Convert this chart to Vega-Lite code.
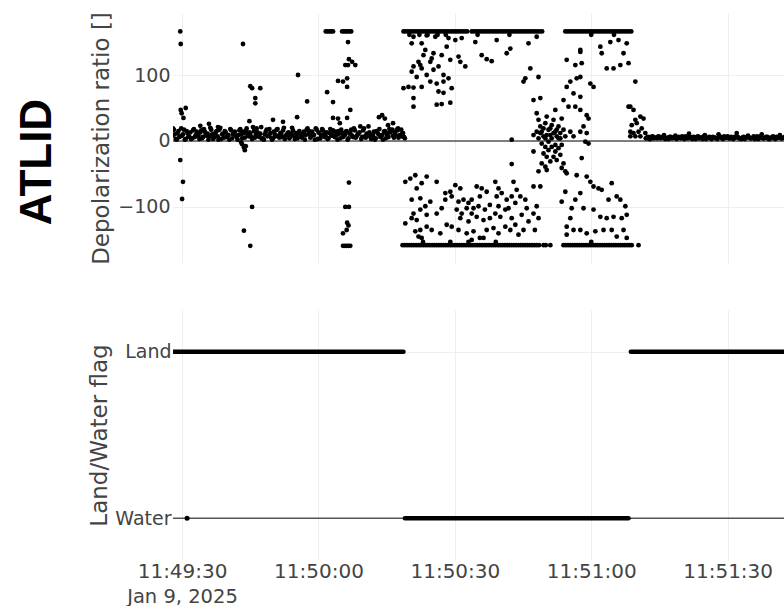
{
"$schema":"https://vega.github.io/schema/vega-lite/v6.json",
"padding":{"left":15,"top":11,"right":0,"bottom":0},
"background":"white",
"spacing":45,
"config":{"view":{"stroke":null},"font":"DejaVu Sans","axis":{"labelFont":"DejaVu Sans","titleFont":"DejaVu Sans","labelFontSize":19,"titleFontSize":23,"labelColor":"#444","titleColor":"#444","titleFontWeight":"normal","gridColor":"#eeeeee","gridWidth":1,"ticks":false,"domain":false}},
"vconcat":[
{"width":611,"height":250,
"title":{"text":"ATLID","orient":"left","anchor":"middle","fontSize":44,"fontWeight":"bold","color":"black","font":"Liberation Sans","offset":30,"dx":-24},
"layer":[
{"data":{"values":[{"z":0}]},"mark":{"type":"rule","color":"#555","strokeWidth":1.5},"encoding":{"y":{"field":"z","type":"quantitative"}}},
{"data":{"values":[
{"t":1736423367800,"v":8},{"t":1736423368200,"v":17},{"t":1736423368600,"v":3},{"t":1736423369000,"v":12},{"t":1736423369400,"v":6},{"t":1736423369800,"v":19},{"t":1736423370200,"v":10},{"t":1736423370600,"v":2},{"t":1736423371000,"v":15},{"t":1736423371400,"v":7},
{"t":1736423371800,"v":13},{"t":1736423372200,"v":4},{"t":1736423372600,"v":18},{"t":1736423373000,"v":9},{"t":1736423373400,"v":11},{"t":1736423373800,"v":3},{"t":1736423374200,"v":16},{"t":1736423374600,"v":6},{"t":1736423375000,"v":14},{"t":1736423375400,"v":8},
{"t":1736423375800,"v":2},{"t":1736423376200,"v":20},{"t":1736423376600,"v":10},{"t":1736423377000,"v":5},{"t":1736423377400,"v":13},{"t":1736423377800,"v":7},{"t":1736423378200,"v":17},{"t":1736423378600,"v":3},{"t":1736423379000,"v":11},{"t":1736423379400,"v":15},
{"t":1736423379800,"v":6},{"t":1736423380200,"v":9},{"t":1736423380600,"v":18},{"t":1736423381000,"v":4},{"t":1736423381400,"v":12},{"t":1736423381800,"v":8},{"t":1736423382200,"v":2},{"t":1736423382600,"v":16},{"t":1736423383000,"v":10},{"t":1736423383400,"v":14},
{"t":1736423383800,"v":5},{"t":1736423384200,"v":19},{"t":1736423384600,"v":7},{"t":1736423385000,"v":11},{"t":1736423385400,"v":3},{"t":1736423385800,"v":15},{"t":1736423386200,"v":9},{"t":1736423386600,"v":13},{"t":1736423387000,"v":6},{"t":1736423387400,"v":21},
{"t":1736423387800,"v":4},{"t":1736423388200,"v":10},{"t":1736423388600,"v":17},{"t":1736423389000,"v":8},{"t":1736423389400,"v":12},{"t":1736423389800,"v":2},{"t":1736423390200,"v":14},{"t":1736423390600,"v":7},{"t":1736423391000,"v":18},{"t":1736423391400,"v":5},
{"t":1736423391800,"v":11},{"t":1736423392200,"v":16},{"t":1736423392600,"v":3},{"t":1736423393000,"v":9},{"t":1736423393400,"v":13},{"t":1736423393800,"v":6},{"t":1736423394200,"v":20},{"t":1736423394600,"v":8},{"t":1736423395000,"v":12},{"t":1736423395400,"v":4},
{"t":1736423395800,"v":15},{"t":1736423396200,"v":7},{"t":1736423396600,"v":10},{"t":1736423397000,"v":2},{"t":1736423397400,"v":17},{"t":1736423397800,"v":11},{"t":1736423398200,"v":5},{"t":1736423398600,"v":14},{"t":1736423399000,"v":9},{"t":1736423399400,"v":19},
{"t":1736423399800,"v":3},{"t":1736423400200,"v":12},{"t":1736423400600,"v":8},{"t":1736423401000,"v":16},{"t":1736423401400,"v":6},{"t":1736423401800,"v":13},{"t":1736423402200,"v":4},{"t":1736423402600,"v":18},{"t":1736423403000,"v":10},{"t":1736423403400,"v":7},
{"t":1736423403800,"v":14},{"t":1736423404200,"v":2},{"t":1736423404600,"v":11},{"t":1736423405000,"v":17},{"t":1736423405400,"v":6},{"t":1736423405800,"v":9},{"t":1736423406200,"v":15},{"t":1736423406600,"v":4},{"t":1736423407000,"v":12},{"t":1736423407400,"v":8},
{"t":1736423407800,"v":19},{"t":1736423408200,"v":5},{"t":1736423408600,"v":10},{"t":1736423409000,"v":13},{"t":1736423409400,"v":3},{"t":1736423409800,"v":16},{"t":1736423410200,"v":7},{"t":1736423410600,"v":11},{"t":1736423411000,"v":22},{"t":1736423411400,"v":6},
{"t":1736423411800,"v":9},{"t":1736423412200,"v":14},{"t":1736423412600,"v":4},{"t":1736423413000,"v":12},{"t":1736423413400,"v":18},{"t":1736423413800,"v":8},{"t":1736423414200,"v":2},{"t":1736423414600,"v":15},{"t":1736423415000,"v":10},{"t":1736423415400,"v":6},
{"t":1736423415800,"v":13},{"t":1736423416200,"v":17},{"t":1736423416600,"v":5},{"t":1736423417000,"v":9},{"t":1736423417400,"v":16},{"t":1736423417800,"v":8},{"t":1736423418200,"v":7},{"t":1736423418600,"v":12},{"t":1736423419000,"v":4},
{"t":1736423368000,"v":19},{"t":1736423368400,"v":10},{"t":1736423368800,"v":2},{"t":1736423369200,"v":15},{"t":1736423369600,"v":7},{"t":1736423370000,"v":8},{"t":1736423370400,"v":17},{"t":1736423370800,"v":3},{"t":1736423371200,"v":12},{"t":1736423371600,"v":6},
{"t":1736423372000,"v":3},{"t":1736423372400,"v":16},{"t":1736423372800,"v":6},{"t":1736423373200,"v":14},{"t":1736423373600,"v":8},{"t":1736423374000,"v":13},{"t":1736423374400,"v":4},{"t":1736423374800,"v":18},{"t":1736423375200,"v":9},{"t":1736423375600,"v":11},
{"t":1736423376000,"v":7},{"t":1736423376400,"v":17},{"t":1736423376800,"v":3},{"t":1736423377200,"v":11},{"t":1736423377600,"v":15},{"t":1736423378000,"v":2},{"t":1736423378400,"v":20},{"t":1736423378800,"v":10},{"t":1736423379200,"v":5},{"t":1736423379600,"v":13},
{"t":1736423380000,"v":8},{"t":1736423380400,"v":2},{"t":1736423380800,"v":16},{"t":1736423381200,"v":10},{"t":1736423381600,"v":14},{"t":1736423382000,"v":6},{"t":1736423382400,"v":9},{"t":1736423382800,"v":18},{"t":1736423383200,"v":4},{"t":1736423383600,"v":12},
{"t":1736423384000,"v":15},{"t":1736423384400,"v":9},{"t":1736423384800,"v":13},{"t":1736423385200,"v":6},{"t":1736423385600,"v":21},{"t":1736423386000,"v":5},{"t":1736423386400,"v":19},{"t":1736423386800,"v":7},{"t":1736423387200,"v":11},{"t":1736423387600,"v":3},
{"t":1736423388000,"v":2},{"t":1736423388400,"v":14},{"t":1736423388800,"v":7},{"t":1736423389200,"v":18},{"t":1736423389600,"v":5},{"t":1736423390000,"v":4},{"t":1736423390400,"v":10},{"t":1736423390800,"v":17},{"t":1736423391200,"v":8},{"t":1736423391600,"v":12},
{"t":1736423392000,"v":6},{"t":1736423392400,"v":20},{"t":1736423392800,"v":8},{"t":1736423393200,"v":12},{"t":1736423393600,"v":4},{"t":1736423394000,"v":11},{"t":1736423394400,"v":16},{"t":1736423394800,"v":3},{"t":1736423395200,"v":9},{"t":1736423395600,"v":13},
{"t":1736423396000,"v":11},{"t":1736423396400,"v":5},{"t":1736423396800,"v":14},{"t":1736423397200,"v":9},{"t":1736423397600,"v":19},{"t":1736423398000,"v":15},{"t":1736423398400,"v":7},{"t":1736423398800,"v":10},{"t":1736423399200,"v":2},{"t":1736423399600,"v":17},
{"t":1736423400000,"v":13},{"t":1736423400400,"v":4},{"t":1736423400800,"v":18},{"t":1736423401200,"v":10},{"t":1736423401600,"v":7},{"t":1736423402000,"v":3},{"t":1736423402400,"v":12},{"t":1736423402800,"v":8},{"t":1736423403200,"v":16},{"t":1736423403600,"v":6},
{"t":1736423404000,"v":9},{"t":1736423404400,"v":15},{"t":1736423404800,"v":4},{"t":1736423405200,"v":12},{"t":1736423405600,"v":8},{"t":1736423406000,"v":14},{"t":1736423406400,"v":2},{"t":1736423406800,"v":11},{"t":1736423407200,"v":17},{"t":1736423407600,"v":6},
{"t":1736423408000,"v":16},{"t":1736423408400,"v":7},{"t":1736423408800,"v":11},{"t":1736423409200,"v":22},{"t":1736423409600,"v":6},{"t":1736423410000,"v":19},{"t":1736423410400,"v":5},{"t":1736423410800,"v":10},{"t":1736423411200,"v":13},{"t":1736423411600,"v":3},
{"t":1736423412000,"v":8},{"t":1736423412400,"v":2},{"t":1736423412800,"v":15},{"t":1736423413200,"v":10},{"t":1736423413600,"v":6},{"t":1736423414000,"v":9},{"t":1736423414400,"v":14},{"t":1736423414800,"v":4},{"t":1736423415200,"v":12},{"t":1736423415600,"v":18},
{"t":1736423416000,"v":16},{"t":1736423416400,"v":8},{"t":1736423416800,"v":13},{"t":1736423417200,"v":17},{"t":1736423417600,"v":5},{"t":1736423418000,"v":9},{"t":1736423418400,"v":11},{"t":1736423418800,"v":6},
{"t":1736423369600,"v":166},{"t":1736423369700,"v":147},{"t":1736423369700,"v":47},{"t":1736423370800,"v":50},{"t":1736423370300,"v":35},{"t":1736423369900,"v":42},{"t":1736423369600,"v":-29},{"t":1736423370200,"v":-62},{"t":1736423370000,"v":-88},
{"t":1736423375900,"v":26},{"t":1736423374000,"v":23},{"t":1736423377900,"v":21},
{"t":1736423383400,"v":147},{"t":1736423385000,"v":83},{"t":1736423385400,"v":80},{"t":1736423387200,"v":80},{"t":1736423386100,"v":65},{"t":1736423386100,"v":57},
{"t":1736423383000,"v":-2},{"t":1736423383200,"v":-5},{"t":1736423383600,"v":-10},{"t":1736423383800,"v":-14},{"t":1736423384000,"v":-8},{"t":1736423385400,"v":-100},{"t":1736423383600,"v":-136},{"t":1736423385000,"v":-159},{"t":1736423384800,"v":30},
{"t":1736423395500,"v":100},{"t":1736423397500,"v":60},{"t":1736423395300,"v":36},{"t":1736423390000,"v":32},{"t":1736423392200,"v":29},
{"t":1736423401900,"v":74},{"t":1736423403200,"v":59},{"t":1736423401600,"v":166},{"t":1736423402000,"v":166},{"t":1736423402400,"v":166},{"t":1736423402800,"v":166},{"t":1736423403200,"v":166},
{"t":1736423405200,"v":166},{"t":1736423405600,"v":166},{"t":1736423406000,"v":166},{"t":1736423406400,"v":166},{"t":1736423406800,"v":166},{"t":1736423407200,"v":166},{"t":1736423406500,"v":150},{"t":1736423406700,"v":124},{"t":1736423405900,"v":115},{"t":1736423406500,"v":115},{"t":1736423408100,"v":115},{"t":1736423407400,"v":120},{"t":1736423404300,"v":91},{"t":1736423405400,"v":90},{"t":1736423406300,"v":95},{"t":1736423406300,"v":82},{"t":1736423407000,"v":47},{"t":1736423406300,"v":35},{"t":1736423403200,"v":35},{"t":1736423404300,"v":34},{"t":1736423404700,"v":27},
{"t":1736423406700,"v":-63},{"t":1736423405900,"v":-100},{"t":1736423406700,"v":-100},{"t":1736423406300,"v":-124},{"t":1736423406600,"v":-128},{"t":1736423405400,"v":-140},{"t":1736423406200,"v":-135},{"t":1736423405400,"v":-159},{"t":1736423405800,"v":-159},{"t":1736423406200,"v":-159},{"t":1736423406600,"v":-159},{"t":1736423407000,"v":-159},
{"t":1736423413300,"v":36},{"t":1736423414000,"v":39},{"t":1736423414600,"v":34},{"t":1736423415300,"v":24},{"t":1736423416400,"v":27},{"t":1736423417500,"v":19},{"t":1736423418200,"v":17},
{"t":1736423418700,"v":166},{"t":1736423419200,"v":166},{"t":1736423419700,"v":166},{"t":1736423420200,"v":166},{"t":1736423420700,"v":166},{"t":1736423421200,"v":166},{"t":1736423421700,"v":166},{"t":1736423422200,"v":166},{"t":1736423422700,"v":166},{"t":1736423423200,"v":166},{"t":1736423423700,"v":166},{"t":1736423424200,"v":166},{"t":1736423424700,"v":166},{"t":1736423425200,"v":166},{"t":1736423425700,"v":166},{"t":1736423426200,"v":166},{"t":1736423426700,"v":166},{"t":1736423427200,"v":166},{"t":1736423427700,"v":166},{"t":1736423428200,"v":166},{"t":1736423428700,"v":166},{"t":1736423429200,"v":166},{"t":1736423429700,"v":166},{"t":1736423430200,"v":166},{"t":1736423430700,"v":166},{"t":1736423431200,"v":166},{"t":1736423431700,"v":166},{"t":1736423432200,"v":166},{"t":1736423432700,"v":166},
{"t":1736423433700,"v":166},{"t":1736423434200,"v":166},{"t":1736423434700,"v":166},{"t":1736423435200,"v":166},{"t":1736423435700,"v":166},{"t":1736423436200,"v":166},{"t":1736423436700,"v":166},{"t":1736423437200,"v":166},{"t":1736423437700,"v":166},{"t":1736423438200,"v":166},{"t":1736423438700,"v":166},{"t":1736423439200,"v":166},{"t":1736423439700,"v":166},{"t":1736423440200,"v":166},{"t":1736423440700,"v":166},{"t":1736423441200,"v":166},{"t":1736423441700,"v":166},{"t":1736423442200,"v":166},{"t":1736423442700,"v":166},{"t":1736423443200,"v":166},{"t":1736423443700,"v":166},{"t":1736423444200,"v":166},{"t":1736423444700,"v":166},{"t":1736423445200,"v":166},{"t":1736423445700,"v":166},{"t":1736423446200,"v":166},{"t":1736423446700,"v":166},{"t":1736423447200,"v":166},{"t":1736423447700,"v":166},{"t":1736423448200,"v":166},{"t":1736423448700,"v":166},{"t":1736423449200,"v":166},
{"t":1736423454300,"v":166},{"t":1736423454800,"v":166},{"t":1736423455300,"v":166},{"t":1736423455800,"v":166},{"t":1736423456300,"v":166},{"t":1736423456800,"v":166},{"t":1736423457300,"v":166},{"t":1736423457800,"v":166},{"t":1736423458300,"v":166},{"t":1736423458800,"v":166},{"t":1736423459300,"v":166},{"t":1736423459800,"v":166},{"t":1736423460300,"v":166},{"t":1736423460800,"v":166},{"t":1736423461300,"v":166},{"t":1736423461800,"v":166},{"t":1736423462300,"v":166},{"t":1736423462800,"v":166},{"t":1736423463300,"v":166},{"t":1736423463800,"v":166},{"t":1736423464300,"v":166},{"t":1736423464800,"v":166},{"t":1736423465300,"v":166},{"t":1736423465800,"v":166},{"t":1736423466300,"v":166},{"t":1736423466800,"v":166},{"t":1736423467300,"v":166},{"t":1736423467800,"v":166},{"t":1736423468300,"v":166},{"t":1736423468800,"v":166},
{"t":1736423420000,"v":161},{"t":1736423422200,"v":161},{"t":1736423424000,"v":161},{"t":1736423426200,"v":161},{"t":1736423428000,"v":161},{"t":1736423435000,"v":161},{"t":1736423442000,"v":161},{"t":1736423460000,"v":161},{"t":1736423465000,"v":161},
{"t":1736423418500,"v":-158},{"t":1736423419000,"v":-158},{"t":1736423419500,"v":-158},{"t":1736423420000,"v":-158},{"t":1736423420500,"v":-158},{"t":1736423421000,"v":-158},{"t":1736423421500,"v":-158},{"t":1736423422000,"v":-158},{"t":1736423422500,"v":-158},{"t":1736423423000,"v":-158},{"t":1736423423500,"v":-158},{"t":1736423424000,"v":-158},{"t":1736423424500,"v":-158},{"t":1736423425000,"v":-158},{"t":1736423425500,"v":-158},{"t":1736423426000,"v":-158},{"t":1736423426500,"v":-158},{"t":1736423427000,"v":-158},{"t":1736423427500,"v":-158},{"t":1736423428000,"v":-158},{"t":1736423428500,"v":-158},{"t":1736423429000,"v":-158},{"t":1736423429500,"v":-158},{"t":1736423430000,"v":-158},{"t":1736423430500,"v":-158},{"t":1736423431000,"v":-158},{"t":1736423431500,"v":-158},{"t":1736423432000,"v":-158},{"t":1736423432500,"v":-158},{"t":1736423433000,"v":-158},{"t":1736423433500,"v":-158},{"t":1736423434000,"v":-158},{"t":1736423434500,"v":-158},{"t":1736423435000,"v":-158},{"t":1736423435500,"v":-158},{"t":1736423436000,"v":-158},{"t":1736423436500,"v":-158},{"t":1736423437000,"v":-158},{"t":1736423437500,"v":-158},{"t":1736423438000,"v":-158},{"t":1736423438500,"v":-158},{"t":1736423439000,"v":-158},{"t":1736423439500,"v":-158},{"t":1736423440000,"v":-158},{"t":1736423440500,"v":-158},{"t":1736423441000,"v":-158},{"t":1736423441500,"v":-158},{"t":1736423442000,"v":-158},{"t":1736423442500,"v":-158},{"t":1736423443000,"v":-158},{"t":1736423443500,"v":-158},{"t":1736423444000,"v":-158},{"t":1736423444500,"v":-158},{"t":1736423445000,"v":-158},{"t":1736423445500,"v":-158},{"t":1736423446000,"v":-158},{"t":1736423446500,"v":-158},{"t":1736423447000,"v":-158},{"t":1736423447500,"v":-158},{"t":1736423448000,"v":-158},{"t":1736423448500,"v":-158},
{"t":1736423449500,"v":-158},{"t":1736423450000,"v":-158},{"t":1736423451000,"v":-158},
{"t":1736423453900,"v":-158},{"t":1736423454400,"v":-158},{"t":1736423454900,"v":-158},{"t":1736423455400,"v":-158},{"t":1736423455900,"v":-158},{"t":1736423456400,"v":-158},{"t":1736423456900,"v":-158},{"t":1736423457400,"v":-158},{"t":1736423457900,"v":-158},{"t":1736423458400,"v":-158},{"t":1736423458900,"v":-158},{"t":1736423459400,"v":-158},{"t":1736423459900,"v":-158},{"t":1736423460400,"v":-158},{"t":1736423460900,"v":-158},{"t":1736423461400,"v":-158},{"t":1736423461900,"v":-158},{"t":1736423462400,"v":-158},{"t":1736423462900,"v":-158},{"t":1736423463400,"v":-158},{"t":1736423463900,"v":-158},{"t":1736423464400,"v":-158},{"t":1736423464900,"v":-158},{"t":1736423465400,"v":-158},{"t":1736423465900,"v":-158},{"t":1736423466400,"v":-158},{"t":1736423466900,"v":-158},{"t":1736423467400,"v":-158},{"t":1736423467900,"v":-158},{"t":1736423468400,"v":-158},{"t":1736423468900,"v":-158},
{"t":1736423470400,"v":-158},
{"t":1736423423000,"v":-153},{"t":1736423429000,"v":-153},{"t":1736423433000,"v":-153},{"t":1736423439000,"v":-153},{"t":1736423460000,"v":-153},
{"t":1736423420500,"v":148},{"t":1736423422700,"v":148},{"t":1736423420900,"v":158},{"t":1736423423800,"v":160},{"t":1736423425700,"v":158},{"t":1736423428600,"v":156},{"t":1736423430100,"v":153},{"t":1736423431500,"v":156},{"t":1736423423500,"v":138},{"t":1736423423100,"v":130},{"t":1736423425300,"v":133},{"t":1736423427100,"v":130},{"t":1736423429000,"v":123},{"t":1736423430800,"v":128},{"t":1736423431200,"v":120},{"t":1736423432300,"v":113},{"t":1736423420900,"v":113},{"t":1736423422000,"v":120},{"t":1736423422700,"v":110},{"t":1736423424600,"v":120},{"t":1736423425300,"v":108},{"t":1736423426400,"v":113},{"t":1736423420500,"v":105},{"t":1736423421600,"v":97},{"t":1736423423800,"v":100},{"t":1736423427500,"v":100},{"t":1736423428600,"v":95},{"t":1736423418700,"v":80},{"t":1736423419800,"v":82},{"t":1736423420900,"v":81},{"t":1736423422700,"v":82},{"t":1736423424600,"v":90},{"t":1736423426000,"v":87},{"t":1736423427500,"v":90},{"t":1736423429300,"v":80},{"t":1736423426400,"v":75},{"t":1736423427500,"v":73},{"t":1736423420900,"v":65},{"t":1736423420900,"v":52},{"t":1736423426000,"v":55},{"t":1736423427100,"v":56},{"t":1736423429000,"v":58},{"t":1736423422400,"v":115},{"t":1736423428200,"v":143},{"t":1736423424900,"v":125},
{"t":1736423434500,"v":150},{"t":1736423439200,"v":153},{"t":1736423441400,"v":133},{"t":1736423442200,"v":140},{"t":1736423446200,"v":148},{"t":1736423448000,"v":158},{"t":1736423435900,"v":130},{"t":1736423437000,"v":124},{"t":1736423438100,"v":121},{"t":1736423446600,"v":110},{"t":1736423445100,"v":90},{"t":1736423445500,"v":95},{"t":1736423448400,"v":97},{"t":1736423447300,"v":62},{"t":1736423448800,"v":65},
{"t":1736423442500,"v":2},{"t":1736423442500,"v":-35},{"t":1736423447300,"v":9},{"t":1736423447300,"v":-16},{"t":1736423447300,"v":-69},{"t":1736423448800,"v":-69},{"t":1736423448000,"v":42},{"t":1736423448400,"v":32},{"t":1736423448800,"v":22},{"t":1736423449100,"v":14},{"t":1736423449500,"v":7},{"t":1736423449900,"v":27},{"t":1736423450200,"v":37},{"t":1736423450600,"v":17},{"t":1736423451000,"v":9},{"t":1736423451300,"v":24},{"t":1736423451700,"v":32},{"t":1736423452100,"v":47},{"t":1736423452100,"v":14},{"t":1736423452400,"v":7},{"t":1736423452800,"v":22},{"t":1736423453200,"v":12},{"t":1736423453500,"v":34},{"t":1736423453900,"v":17},{"t":1736423454300,"v":7},{"t":1736423448800,"v":12},{"t":1736423449500,"v":19},{"t":1736423450200,"v":9},{"t":1736423451000,"v":19},{"t":1736423451700,"v":12},{"t":1736423452400,"v":17},{"t":1736423453200,"v":4},{"t":1736423448000,"v":14},{"t":1736423448400,"v":4},{"t":1736423449900,"v":4},{"t":1736423451300,"v":4},{"t":1736423452800,"v":4},{"t":1736423449100,"v":-4},{"t":1736423449900,"v":-9},{"t":1736423450600,"v":-14},{"t":1736423451300,"v":-9},{"t":1736423452100,"v":-16},{"t":1736423452800,"v":-11},{"t":1736423453500,"v":-6},{"t":1736423449500,"v":-19},{"t":1736423450200,"v":-24},{"t":1736423451700,"v":-24},{"t":1736423453200,"v":-21},{"t":1736423449100,"v":-34},{"t":1736423449900,"v":-39},{"t":1736423451000,"v":-31},{"t":1736423452400,"v":-29},{"t":1736423453900,"v":-34},{"t":1736423448400,"v":-46},{"t":1736423450200,"v":-44},{"t":1736423454300,"v":-46},{"t":1736423453500,"v":-41},{"t":1736423452100,"v":-6},{"t":1736423450600,"v":-1},{"t":1736423454600,"v":-49},
{"t":1736423454600,"v":123},{"t":1736423457600,"v":135},{"t":1736423457900,"v":118},{"t":1736423456500,"v":115},{"t":1736423462000,"v":143},{"t":1736423462300,"v":133},{"t":1736423464200,"v":150},{"t":1736423466000,"v":153},{"t":1736423467800,"v":148},{"t":1736423467100,"v":133},{"t":1736423468200,"v":118},{"t":1736423466400,"v":115},{"t":1736423463400,"v":110},{"t":1736423464900,"v":110},{"t":1736423456800,"v":95},{"t":1736423455400,"v":90},{"t":1736423457600,"v":97},{"t":1736423459800,"v":87},{"t":1736423460500,"v":82},{"t":1736423454600,"v":82},{"t":1736423469700,"v":90},{"t":1736423456100,"v":72},{"t":1736423457600,"v":67},{"t":1736423453900,"v":62},{"t":1736423455000,"v":52},{"t":1736423456500,"v":52},{"t":1736423457600,"v":47},{"t":1736423459000,"v":39},{"t":1736423459400,"v":34},{"t":1736423458300,"v":22},{"t":1736423457600,"v":14},{"t":1736423459000,"v":12},{"t":1736423458700,"v":-1},{"t":1736423459400,"v":-4},{"t":1736423455400,"v":14},{"t":1736423456100,"v":7},{"t":1736423468600,"v":52},{"t":1736423469300,"v":47},{"t":1736423457600,"v":138},
{"t":1736423419100,"v":-62},{"t":1736423420200,"v":-57},{"t":1736423421300,"v":-52},{"t":1736423422700,"v":-64},{"t":1736423423800,"v":-54},{"t":1736423426000,"v":-62},{"t":1736423421600,"v":-72},{"t":1736423422400,"v":-87},{"t":1736423420500,"v":-89},{"t":1736423424600,"v":-92},{"t":1736423423500,"v":-99},{"t":1736423420900,"v":-110},{"t":1736423422400,"v":-104},{"t":1736423419100,"v":-125},{"t":1736423420500,"v":-117},{"t":1736423421600,"v":-120},{"t":1736423423800,"v":-112},{"t":1736423422400,"v":-135},{"t":1736423421300,"v":-137},{"t":1736423422000,"v":-145},{"t":1736423423800,"v":-130},{"t":1736423427900,"v":-79},{"t":1736423429000,"v":-77},{"t":1736423430100,"v":-67},{"t":1736423431200,"v":-72},{"t":1736423427900,"v":-89},{"t":1736423429300,"v":-84},{"t":1736423430800,"v":-92},{"t":1736423431900,"v":-89},{"t":1736423433000,"v":-94},{"t":1736423430400,"v":-104},{"t":1736423431500,"v":-110},{"t":1736423432600,"v":-102},{"t":1736423433700,"v":-89},{"t":1736423434800,"v":-69},{"t":1736423435900,"v":-72},{"t":1736423437000,"v":-77},{"t":1736423435500,"v":-84},{"t":1736423435200,"v":-99},{"t":1736423436600,"v":-104},{"t":1736423437700,"v":-97},{"t":1736423438900,"v":-62},{"t":1736423439600,"v":-72},{"t":1736423440300,"v":-79},{"t":1736423439200,"v":-84},{"t":1736423441400,"v":-89},{"t":1736423442500,"v":-84},{"t":1736423442900,"v":-62},{"t":1736423443600,"v":-74},{"t":1736423444400,"v":-84},{"t":1736423445500,"v":-89},{"t":1736423443300,"v":-94},{"t":1736423441800,"v":-102},{"t":1736423438900,"v":-110},{"t":1736423440000,"v":-115},{"t":1736423441100,"v":-104},{"t":1736423437700,"v":-117},{"t":1736423436300,"v":-120},{"t":1736423434800,"v":-115},{"t":1736423433700,"v":-110},{"t":1736423431200,"v":-117},{"t":1736423433000,"v":-122},{"t":1736423429300,"v":-130},{"t":1736423428200,"v":-127},{"t":1736423430800,"v":-135},{"t":1736423432600,"v":-140},{"t":1736423434100,"v":-137},{"t":1736423435500,"v":-147},{"t":1736423437000,"v":-135},{"t":1736423438500,"v":-132},{"t":1736423439600,"v":-140},{"t":1736423441100,"v":-130},{"t":1736423442200,"v":-135},{"t":1736423443300,"v":-127},{"t":1736423444000,"v":-142},{"t":1736423445100,"v":-135},{"t":1736423446200,"v":-122},{"t":1736423447300,"v":-110},{"t":1736423448000,"v":-99},{"t":1736423448400,"v":-117},{"t":1736423447600,"v":-135},{"t":1736423445800,"v":-102},{"t":1736423444700,"v":-112},{"t":1736423442500,"v":-117},{"t":1736423439600,"v":-99},{"t":1736423434100,"v":-102},{"t":1736423427100,"v":-102},{"t":1736423426000,"v":-110},{"t":1736423426800,"v":-140},{"t":1736423424900,"v":-135},{"t":1736423422700,"v":-147},{"t":1736423433700,"v":-150},{"t":1736423436300,"v":-147},
{"t":1736423453500,"v":-92},{"t":1736423454300,"v":-77},{"t":1736423456500,"v":-89},{"t":1736423457600,"v":-79},{"t":1736423459000,"v":-54},{"t":1736423459800,"v":-62},{"t":1736423460500,"v":-69},{"t":1736423461600,"v":-72},{"t":1736423462300,"v":-74},{"t":1736423464500,"v":-64},{"t":1736423463800,"v":-89},{"t":1736423465600,"v":-84},{"t":1736423466400,"v":-89},{"t":1736423455700,"v":-102},{"t":1736423458300,"v":-102},{"t":1736423460500,"v":-104},{"t":1736423462000,"v":-115},{"t":1736423463400,"v":-117},{"t":1736423464900,"v":-115},{"t":1736423467500,"v":-99},{"t":1736423467800,"v":-112},{"t":1736423466700,"v":-117},{"t":1736423455400,"v":-117},{"t":1736423454600,"v":-130},{"t":1736423456100,"v":-135},{"t":1736423457600,"v":-135},{"t":1736423459000,"v":-140},{"t":1736423460900,"v":-137},{"t":1736423462700,"v":-135},{"t":1736423464500,"v":-135},{"t":1736423467100,"v":-135},{"t":1736423465600,"v":-145},{"t":1736423467800,"v":-147},{"t":1736423454600,"v":-142},{"t":1736423457900,"v":-26},{"t":1736423456800,"v":-52},
{"t":1736423468200,"v":52},{"t":1736423469700,"v":32},{"t":1736423470800,"v":37},{"t":1736423471500,"v":34},{"t":1736423470000,"v":27},{"t":1736423468900,"v":24},{"t":1736423468600,"v":14},{"t":1736423469300,"v":12},{"t":1736423470400,"v":14},{"t":1736423471100,"v":19},{"t":1736423471900,"v":12},{"t":1736423468600,"v":7},{"t":1736423469700,"v":7},{"t":1736423470800,"v":7},
{"t":1736423472000,"v":4},{"t":1736423472500,"v":6},{"t":1736423473000,"v":3},{"t":1736423473500,"v":7},{"t":1736423474000,"v":5},{"t":1736423474500,"v":4},{"t":1736423475000,"v":6},{"t":1736423475500,"v":5},{"t":1736423476000,"v":9},{"t":1736423476500,"v":4},
{"t":1736423477000,"v":3},{"t":1736423477500,"v":6},{"t":1736423478000,"v":5},{"t":1736423478500,"v":8},{"t":1736423479000,"v":4},{"t":1736423479500,"v":5},{"t":1736423480000,"v":7},{"t":1736423480500,"v":3},{"t":1736423481000,"v":5},{"t":1736423481500,"v":11},
{"t":1736423482000,"v":4},{"t":1736423482500,"v":6},{"t":1736423483000,"v":3},{"t":1736423483500,"v":7},{"t":1736423484000,"v":5},{"t":1736423484500,"v":3},{"t":1736423485000,"v":9},{"t":1736423485500,"v":5},{"t":1736423486000,"v":6},{"t":1736423486500,"v":3},
{"t":1736423487000,"v":5},{"t":1736423487500,"v":4},{"t":1736423488000,"v":10},{"t":1736423488500,"v":6},{"t":1736423489000,"v":3},{"t":1736423489500,"v":5},{"t":1736423490000,"v":7},{"t":1736423490500,"v":4},{"t":1736423491000,"v":5},{"t":1736423491500,"v":6},
{"t":1736423492000,"v":12},{"t":1736423492500,"v":4},{"t":1736423493000,"v":3},{"t":1736423493500,"v":6},{"t":1736423494000,"v":5},{"t":1736423494500,"v":8},{"t":1736423495000,"v":4},{"t":1736423495500,"v":5},{"t":1736423496000,"v":3},{"t":1736423496500,"v":7},
{"t":1736423497000,"v":5},{"t":1736423497500,"v":10},{"t":1736423498000,"v":4},{"t":1736423498500,"v":6},{"t":1736423499000,"v":3},{"t":1736423499500,"v":5},{"t":1736423500000,"v":7},{"t":1736423500500,"v":3},{"t":1736423501000,"v":5},{"t":1736423501500,"v":9},
{"t":1736423502000,"v":4},{"t":1736423502500,"v":6},
{"t":1736423472250,"v":5},{"t":1736423472750,"v":3},{"t":1736423473250,"v":6},{"t":1736423473750,"v":4},{"t":1736423474250,"v":5},{"t":1736423474750,"v":7},{"t":1736423475250,"v":4},{"t":1736423475750,"v":6},{"t":1736423476250,"v":3},{"t":1736423476750,"v":5},
{"t":1736423477250,"v":6},{"t":1736423477750,"v":4},{"t":1736423478250,"v":5},{"t":1736423478750,"v":3},{"t":1736423479250,"v":6},{"t":1736423479750,"v":4},{"t":1736423480250,"v":5},{"t":1736423480750,"v":7},{"t":1736423481250,"v":4},{"t":1736423481750,"v":6},
{"t":1736423482250,"v":3},{"t":1736423482750,"v":5},{"t":1736423483250,"v":6},{"t":1736423483750,"v":4},{"t":1736423484250,"v":5},{"t":1736423484750,"v":7},{"t":1736423485250,"v":3},{"t":1736423485750,"v":5},{"t":1736423486250,"v":4},{"t":1736423486750,"v":6},
{"t":1736423487250,"v":5},{"t":1736423487750,"v":3},{"t":1736423488250,"v":6},{"t":1736423488750,"v":4},{"t":1736423489250,"v":7},{"t":1736423489750,"v":5},{"t":1736423490250,"v":4},{"t":1736423490750,"v":6},{"t":1736423491250,"v":3},{"t":1736423491750,"v":5},
{"t":1736423492250,"v":6},{"t":1736423492750,"v":4},{"t":1736423493250,"v":5},{"t":1736423493750,"v":3},{"t":1736423494250,"v":6},{"t":1736423494750,"v":5},{"t":1736423495250,"v":4},{"t":1736423495750,"v":7},{"t":1736423496250,"v":5},{"t":1736423496750,"v":3},
{"t":1736423497250,"v":6},{"t":1736423497750,"v":4},{"t":1736423498250,"v":5},{"t":1736423498750,"v":6},{"t":1736423499250,"v":3},{"t":1736423499750,"v":5},{"t":1736423500250,"v":4},{"t":1736423500750,"v":6},{"t":1736423501250,"v":5},{"t":1736423501750,"v":4},
{"t":1736423502250,"v":5}
]},
"mark":{"type":"circle","size":23,"color":"black","opacity":1,"clip":true},
"encoding":{
"x":{"field":"t","type":"temporal","scale":{"type":"utc","domain":[1736423368000,1736423502400]},"axis":{"labels":false,"title":null,"grid":true,"values":[1736423370000,1736423400000,1736423430000,1736423460000,1736423490000]}},
"y":{"field":"v","type":"quantitative","scale":{"domain":[-185,194],"nice":false,"zero":false},"axis":{"values":[-100,0,100],"title":"Depolarization ratio []","grid":true,"labelPadding":3,"titleX":-72,"titleY":125,"titleBaseline":"middle","titleAlign":"center","titleAngle":-90}}
}}
]},
{"width":611,"height":250,
"layer":[
{"data":{"values":[{"flag":"Water"}]},"mark":{"type":"rule","color":"#555","strokeWidth":1.5},"encoding":{"y":{"field":"flag","type":"nominal"}}},
{"data":{"values":[
{"a":1736423367500,"b":1736423418700,"flag":"Land"},
{"a":1736423419000,"b":1736423468200,"flag":"Water"},
{"a":1736423468700,"b":1736423503500,"flag":"Land"}
]},
"mark":{"type":"rule","color":"black","strokeWidth":4.5,"strokeCap":"round","clip":true},
"encoding":{
"x":{"field":"a","type":"temporal","scale":{"type":"utc","domain":[1736423368000,1736423502400]},"axis":{"title":"Jan 9, 2025","titleX":9,"titleY":36,"titleAlign":"center","titleBaseline":"middle","titleAngle":0,"titleFontSize":19.5,"grid":true,"values":[1736423370000,1736423400000,1736423430000,1736423460000,1736423490000],"labelExpr":"utcFormat(datum.value, '%H:%M:%S')","labelFontSize":20,"labelPadding":1}},
"x2":{"field":"b"},
"y":{"field":"flag","type":"nominal","scale":{"type":"point","domain":["Land","Water"],"padding":0.25},"axis":{"title":"Land/Water flag","grid":true,"labelPadding":2,"titleX":-74,"titleY":125,"titleBaseline":"middle","titleAlign":"center","titleAngle":-90}}
}},
{"data":{"values":[{"t":1736423371100,"flag":"Water"}]},
"mark":{"type":"circle","size":25,"color":"black","opacity":1},
"encoding":{"x":{"field":"t","type":"temporal"},"y":{"field":"flag","type":"nominal"}}}
]}
]
}
